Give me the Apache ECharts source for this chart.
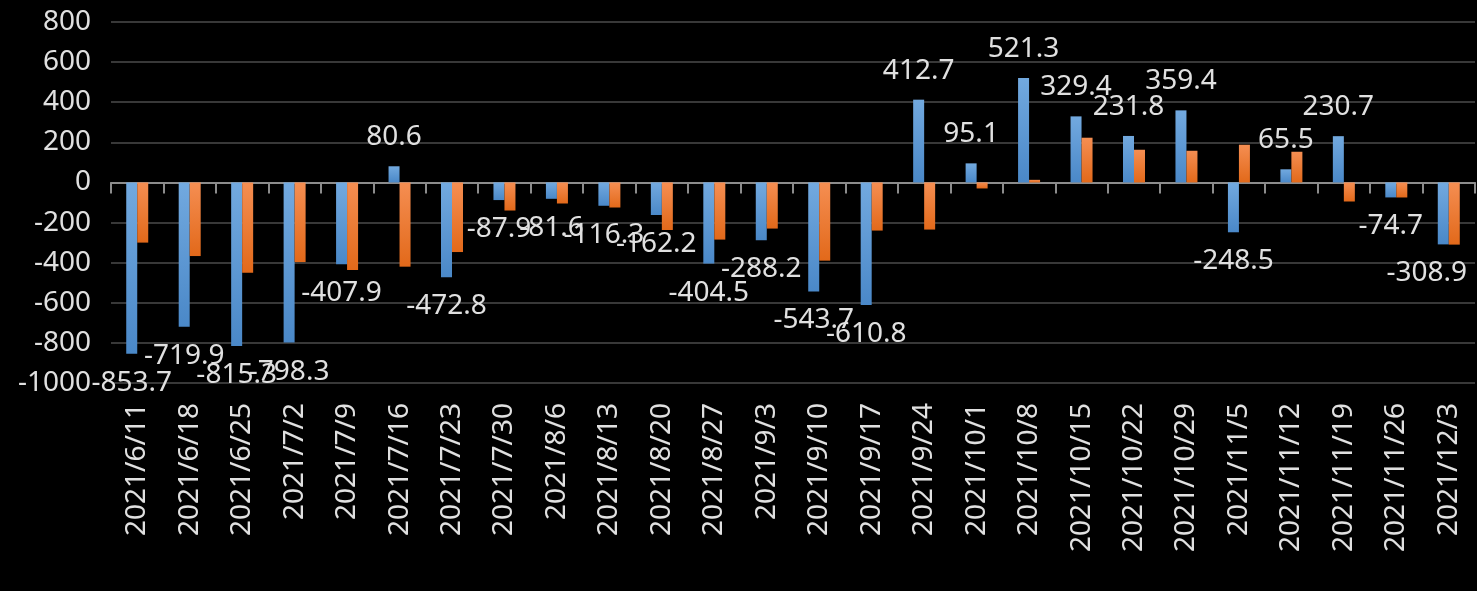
<!DOCTYPE html>
<html>
<head>
<meta charset="utf-8">
<script src="https://cdn.jsdelivr.net/npm/echarts@6/dist/echarts.min.js"></script>
<style>
html,body{margin:0;padding:0;background:#000;}
#c{width:1477px;height:591px;}
</style>
</head>
<body>
<div id="c"></div>
<script>
const categories = ['2021/6/11','2021/6/18','2021/6/25','2021/7/2','2021/7/9','2021/7/16','2021/7/23','2021/7/30','2021/8/6','2021/8/13','2021/8/20','2021/8/27','2021/9/3','2021/9/10','2021/9/17','2021/9/24','2021/10/1','2021/10/8','2021/10/15','2021/10/22','2021/10/29','2021/11/5','2021/11/12','2021/11/19','2021/11/26','2021/12/3'];
const blueValues = [-853.7,-719.9,-815.3,-798.3,-407.9,80.6,-472.8,-87.9,-81.6,-116.3,-162.2,-404.5,-288.2,-543.7,-610.8,412.7,95.1,521.3,329.4,231.8,359.4,-248.5,65.5,230.7,-74.7,-308.9];
const orangeValues = [-300,-367,-450,-397,-437,-420,-347,-140,-105,-125,-237,-285,-230,-390,-240,-235,-30,13,223,163,158,188,153,-95,-75,-310];
const yMin = -1000, yMax = 800, yStep = 200;

const FONT = 'Noto Sans';
const W = 1477;
const chart = echarts.init(document.getElementById('c'));
const grad = (a, b) => new echarts.graphic.LinearGradient(0, 0, 0, 1, [{offset: 0, color: a}, {offset: 1, color: b}]);

chart.setOption({
  backgroundColor: '#000',
  animation: false,
  grid: {left: 111, right: 2, top: 22, bottom: 208},
  xAxis: [
    {
      type: 'category', data: categories, position: 'bottom',
      axisLine: {show: false, onZero: false}, axisTick: {show: false},
      axisLabel: {rotate: 90, color: '#e0e0e0', fontSize: 28, fontFamily: FONT, margin: 20, interval: 0}
    },
    {
      type: 'category', data: categories, position: 'bottom',
      axisLine: {show: true, onZero: true, lineStyle: {color: '#8c8c8c', width: 2}},
      axisTick: {show: true, length: 11, lineStyle: {color: '#8c8c8c', width: 2}, interval: 0},
      axisLabel: {show: false}
    }
  ],
  yAxis: {
    type: 'value', min: yMin, max: yMax, interval: yStep,
    axisLine: {show: false}, axisTick: {show: false},
    axisLabel: {color: '#e0e0e0', fontSize: 28, fontFamily: FONT, margin: 20, formatter: v => String(v)},
    splitLine: {lineStyle: {color: '#383838', width: 2}}
  },
  series: [
    {
      type: 'bar', xAxisIndex: 0, barWidth: 11, barGap: '0%',
      itemStyle: {color: grad('#72a9df', '#4a88c8')},
      data: blueValues.map(v => ({value: v, label: {position: v < 0 ? 'bottom' : 'top'}})),
      label: {show: true, color: '#e0e0e0', fontSize: 28, fontFamily: FONT, distance: 15},
      labelLayout: function (p) {
        const r = p.labelRect;
        const limit = W - 10;
        if (r.x + r.width > limit) return {dx: limit - (r.x + r.width)};
        return {};
      }
    },
    {
      type: 'bar', xAxisIndex: 0, barWidth: 11, barGap: '0%',
      itemStyle: {color: grad('#f58e52', '#e2691a')},
      data: orangeValues
    }
  ]
});
</script>
</body>
</html>
